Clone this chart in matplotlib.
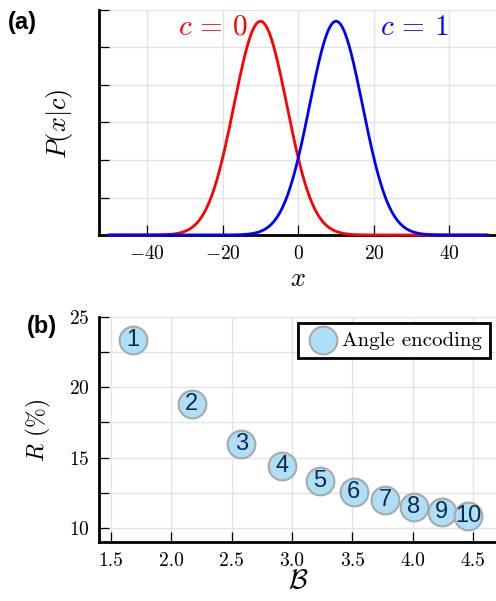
import numpy as np
import matplotlib
matplotlib.use('Agg')
import matplotlib.pyplot as plt

plt.rcParams['mathtext.fontset'] = 'cm'
plt.rcParams['font.family'] = 'serif'
plt.rcParams['font.serif'] = ['cmr10', 'DejaVu Serif']
plt.rcParams['axes.formatter.use_mathtext'] = True
plt.rcParams['axes.unicode_minus'] = True

# panel (a): two class-conditional gaussians
class_means = [-10, 10]
class_sigma = 7
class_labels = [r'$c\,=\,0$', r'$c\,=\,1$']
class_colors = ['#ff0000', '#0000ff']
x_range = (-50, 50)

# panel (b): R vs B, labelled 1..10
B_vals = [1.68, 2.17, 2.58, 2.92, 3.23, 3.51, 3.77, 4.01, 4.24, 4.46]
R_vals = [23.33, 18.84, 16.0, 14.42, 13.33, 12.53, 11.99, 11.51, 11.16, 10.85]
point_labels = ['1', '2', '3', '4', '5', '6', '7', '8', '9', '10']

W, H = 496, 601
fig = plt.figure(figsize=(W / 100, H / 100), dpi=100)

grid_col = '#e3e3e3'


def style_axes(ax):
    for s in ['top', 'right']:
        ax.spines[s].set_visible(False)
    for s in ['left', 'bottom']:
        ax.spines[s].set_linewidth(2.0)
    ax.tick_params(which='both', direction='in', length=7, width=0.9,
                   labelsize=14, pad=7)
    ax.grid(True, which='both', color=grid_col, linewidth=1.0)
    ax.set_axisbelow(True)


# ---- (a)
ax1 = fig.add_axes([99 / W, (H - 235) / H, 1 - 99 / W, 225 / H])
xs = np.linspace(x_range[0], x_range[1], 600)
for mu, col in zip(class_means, class_colors):
    ys = np.exp(-(xs - mu) ** 2 / (2 * class_sigma ** 2)) / (class_sigma * np.sqrt(2 * np.pi))
    ax1.plot(xs, ys, color=col, lw=2, clip_on=False, zorder=3)
ax1.set_xlim(-52.7, 52.3)
ax1.set_ylim(0, 0.06)
ax1.set_xticks([-40, -20, 0, 20, 40])
ax1.set_yticks(np.arange(0, 0.061, 0.01))
ax1.set_yticklabels([])
style_axes(ax1)
ax1.set_xlabel('$x$', fontsize=19, labelpad=3)
ax1.set_ylabel('$P(x|c)$', fontsize=19)
ax1.yaxis.set_label_coords(-0.06, 0.495)
ax1.text(-22.5, 0.0553, class_labels[0], color=class_colors[0], fontsize=21,
         ha='center', va='center')
ax1.text(30.6, 0.0553, class_labels[1], color=class_colors[1], fontsize=21,
         ha='center', va='center')

# ---- (b)
ax2 = fig.add_axes([99 / W, (H - 542) / H, 1 - 99 / W, 225 / H])
ax2.scatter(B_vals, R_vals, s=400, facecolor='#addff8', edgecolor='#a9a9a9',
            linewidth=1.5, zorder=3, label='Angle encoding')
for b, r, t in zip(B_vals, R_vals, point_labels):
    ax2.text(b, r, t, ha='center', va='center', fontsize=17, color='#0e2a46',
             family='Liberation Sans', zorder=4)
ax2.set_xlim(1.4, 4.69)
ax2.set_ylim(9, 25)
ax2.set_xticks([1.5, 2.0, 2.5, 3.0, 3.5, 4.0, 4.5])
ax2.set_yticks([10, 15, 20, 25])
ax2.set_yticks([12.5, 17.5, 22.5], minor=True)
ax2.set_xticklabels(['1.5', '2.0', '2.5', '3.0', '3.5', '4.0', '4.5'])
style_axes(ax2)
ax2.set_xlabel(r'$\mathcal{B}$', fontsize=20)
ax2.xaxis.set_label_coords(0.501, -0.112)
ax2.set_ylabel(r'$R$ (%)', fontsize=17)
ax2.yaxis.set_label_coords(-0.115, 0.496)
leg = ax2.legend(loc='upper left', bbox_to_anchor=(298 / W, 1 - 323 / H),
                 bbox_transform=fig.transFigure, borderaxespad=0,
                 fancybox=False, framealpha=1, edgecolor='black',
                 fontsize=15, handletextpad=0.1, borderpad=0.4,
                 handlelength=1.6)
leg.get_frame().set_linewidth(2.0)

fig.text(8 / W, 1 - 22 / H, '(a)', fontsize=17, weight='bold',
         family='Liberation Sans', va='center')
fig.text(27 / W, 1 - 326 / H, '(b)', fontsize=17, weight='bold',
         family='Liberation Sans', va='center')

fig.savefig('out.png', dpi=100)
